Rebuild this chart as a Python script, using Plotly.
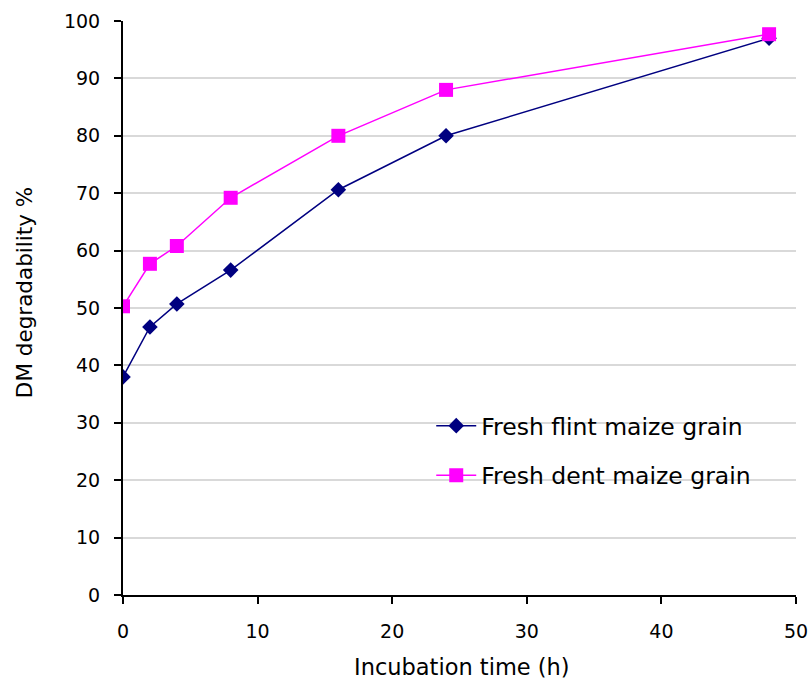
import plotly.graph_objects as go

hours = [0, 2, 4, 8, 16, 24, 48]
flint = [38.0, 46.7, 50.7, 56.6, 70.6, 80.0, 97.0]
dent = [50.3, 57.7, 60.8, 69.2, 80.0, 88.0, 97.7]
x_ticks = [0, 10, 20, 30, 40, 50]
y_ticks = [0, 10, 20, 30, 40, 50, 60, 70, 80, 90, 100]
x_title = "Incubation time (h)"
y_title = "DM degradability %"

FONT = "DejaVu Sans, Liberation Sans, Arial, sans-serif"

fig = go.Figure()
fig.add_trace(go.Scatter(
    x=hours, y=flint, mode="lines+markers", name="Fresh flint maize grain",
    legendgroup="a",
    line=dict(color="#000080", width=1.5),
    marker=dict(symbol="diamond", size=12, color="#000080"),
))
fig.add_trace(go.Scatter(
    x=hours, y=dent, mode="lines+markers", name="Fresh dent maize grain",
    legendgroup="b",
    line=dict(color="#FF00FF", width=1.5),
    marker=dict(symbol="square", size=14, color="#FF00FF"),
))

# white legend box covering gridlines
fig.add_shape(type="rect", xref="paper", yref="paper",
              x0=0.3715, x1=1.0, y0=0.16, y1=0.33,
              fillcolor="white", line=dict(width=0), layer="between")

fig.add_annotation(text=x_title, xref="paper", yref="paper",
                   x=0.503, y=-0.1254, xanchor="center", yanchor="middle",
                   showarrow=False, font=dict(family=FONT, size=22.5))
fig.add_annotation(text=y_title, xref="paper", yref="paper",
                   x=-0.147, y=0.526, xanchor="center", yanchor="middle",
                   textangle=-90, showarrow=False, font=dict(family=FONT, size=21.5))

fig.update_layout(
    width=812, height=687,
    margin=dict(l=123, r=16, t=21, b=92, autoexpand=False),
    paper_bgcolor="white", plot_bgcolor="white",
    font=dict(family=FONT, size=19, color="black"),
    showlegend=True,
    legend=dict(
        x=0.458, y=0.333, xanchor="left", yanchor="top",
        bgcolor="rgba(0,0,0,0)", font=dict(size=23.5),
        itemwidth=40, tracegroupgap=16,
    ),
    xaxis=dict(
        range=[0, 50], tickvals=x_ticks, showgrid=False, zeroline=False,
        showline=True, linecolor="black", linewidth=2,
        ticks="outside", ticklen=7, tickwidth=2, tickcolor="black",
        ticklabelstandoff=11, tickfont=dict(family=FONT, size=19),
    ),
    yaxis=dict(
        range=[0, 100], tickvals=y_ticks, showgrid=True, gridcolor="#D9D9D9",
        gridwidth=2, zeroline=False,
        showline=True, linecolor="black", linewidth=2,
        ticks="outside", ticklen=7, tickwidth=2, tickcolor="black",
        ticklabelstandoff=10, tickfont=dict(family=FONT, size=19),
    ),
)

fig.write_html("out.html", config={"displayModeBar": False},
               post_script="document.body.style.margin='0';document.body.style.overflow='hidden';")
